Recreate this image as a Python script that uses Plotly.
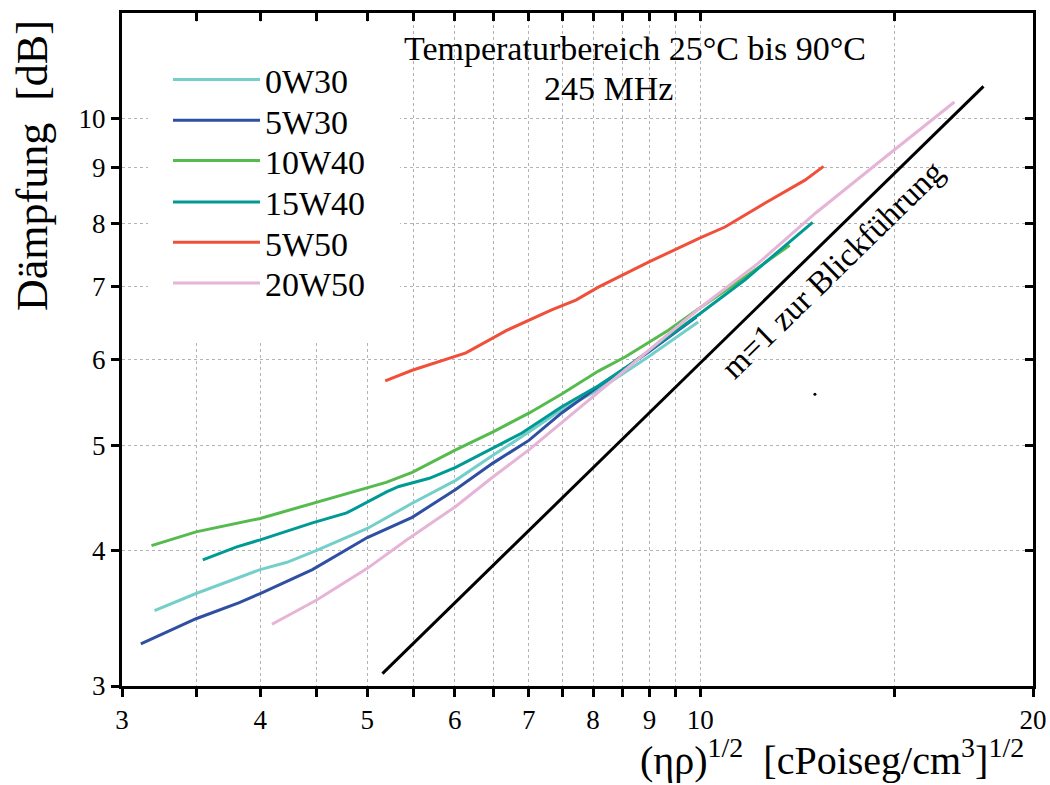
import math
import plotly.graph_objects as go

FONT = "Liberation Serif"

# ---- data ----
x_0w30 = [3.21, 3.50, 4.00, 4.23, 4.50, 5.00, 5.49, 6.01, 6.49, 7.00, 7.49, 8.09, 8.98, 9.96]
y_0w30 = [3.52, 3.65, 3.84, 3.90, 4.00, 4.19, 4.42, 4.64, 4.89, 5.14, 5.39, 5.62, 6.03, 6.49]

x_5w30 = [3.12, 3.50, 3.83, 4.00, 4.46, 4.75, 5.00, 5.49, 6.01, 6.49, 7.00, 7.49, 8.09, 8.98, 9.92]
y_5w30 = [3.28, 3.46, 3.58, 3.65, 3.84, 3.99, 4.11, 4.29, 4.55, 4.81, 5.05, 5.35, 5.66, 6.09, 6.56]

x_10w40 = [3.19, 3.50, 4.00, 4.46, 4.75, 5.20, 5.49, 6.01, 6.49, 7.00, 7.49, 8.09, 8.56, 9.36, 10.0, 10.98, 12.05]
y_10w40 = [4.04, 4.16, 4.28, 4.42, 4.50, 4.62, 4.72, 4.95, 5.14, 5.35, 5.57, 5.85, 6.03, 6.38, 6.69, 7.14, 7.64]

x_15w40 = [3.55, 3.81, 4.00, 4.46, 4.79, 5.21, 5.34, 5.69, 6.01, 6.49, 6.90, 7.49, 8.09, 8.56, 10.0, 10.98, 12.64]
y_15w40 = [3.92, 4.03, 4.09, 4.24, 4.33, 4.53, 4.58, 4.66, 4.77, 4.97, 5.13, 5.42, 5.67, 5.89, 6.61, 7.10, 8.02]

x_5w50 = [5.19, 5.49, 6.14, 6.69, 7.34, 7.72, 8.09, 8.98, 10.0, 10.53, 11.44, 12.44, 12.93]
y_5w50 = [5.73, 5.86, 6.08, 6.38, 6.66, 6.80, 6.99, 7.37, 7.76, 7.94, 8.35, 8.77, 9.03]

x_20w50 = [4.10, 4.50, 5.00, 5.43, 6.01, 6.49, 7.00, 7.49, 8.09, 10.0, 11.28, 12.72, 14.47, 16.98]
y_20w50 = [3.42, 3.60, 3.85, 4.09, 4.39, 4.67, 4.95, 5.24, 5.60, 6.69, 7.35, 8.18, 9.09, 10.35]

# guide line with slope m = 1
x_guide = [5.16, 18.04]
y_guide = [3.08, 10.70]

# stray dot in the original figure
x_dot = [12.70]
y_dot = [5.57]

names = ["0W30", "5W30", "10W40", "15W40", "5W50", "20W50"]
colors = ["#74cfcb", "#2f4fa2", "#56bb4e", "#009a94", "#f0503a", "#e6b4d6"]
xs_all = [x_0w30, x_5w30, x_10w40, x_15w40, x_5w50, x_20w50]
ys_all = [y_0w30, y_5w30, y_10w40, y_15w40, y_5w50, y_20w50]

x_major = [3, 4, 5, 6, 7, 8, 9, 10, 20]
x_minor = [3.5, 4.5, 5.5, 6.5, 7.5, 8.5, 9.5, 15]
x_top_ticks = [3.5, 4, 4.5, 5, 5.5, 6, 6.5, 7, 7.5, 8, 8.5, 9, 9.5, 10, 15]
y_tickvals = [3, 4, 5, 6, 7, 8, 9, 10]
y_right_ticks = [4, 5, 6, 7, 8, 9, 10]

x_range = [math.log10(3), math.log10(20)]
y_range = [math.log10(3), math.log10(12.5)]

# plot-area geometry in pixels (for paper-coordinate placement of labels)
L, T, W, H = 122, 13, 911, 673


def px(xp):
    return (xp - L) / W


def py(yp):
    return (T + H - yp) / H


fig = go.Figure()

fig.add_trace(go.Scatter(x=x_guide, y=y_guide, mode="lines",
                         line=dict(color="black", width=3), showlegend=False,
                         hoverinfo="skip"))

legend_ids = ["legend", "legend2", "legend3", "legend4", "legend5", "legend6"]
legend_centers = [80, 120.7, 161, 202.3, 242.7, 283.3]

for name, xs, ys, col, lid in zip(names, xs_all, ys_all, colors, legend_ids):
    fig.add_trace(go.Scatter(
        x=xs, y=ys, mode="lines", name=name, legend=lid,
        line=dict(color=col, width=3),
    ))

fig.add_trace(go.Scatter(x=x_dot, y=y_dot, mode="markers",
                         marker=dict(color="black", size=3), showlegend=False,
                         hoverinfo="skip"))

# dummy trace to activate overlay axes (inside ticks on top / right)
fig.add_trace(go.Scatter(x=[None], y=[None], xaxis="x2", yaxis="y2",
                         showlegend=False, hoverinfo="skip"))

grid_col = "#b3b3b3"
tick_font = dict(family=FONT, size=27, color="black")

legend_layout = {}
for lid, c in zip(legend_ids, legend_centers):
    legend_layout[lid] = dict(
        x=px(168), y=py(c), xanchor="left", yanchor="middle",
        bgcolor="rgba(0,0,0,0)", borderwidth=0,
        font=dict(family=FONT, size=34, color="black"),
        itemwidth=87, tracegroupgap=0,
    )

fig.update_layout(
    width=1050, height=785,
    margin=dict(l=L, r=1050 - L - W, t=T, b=785 - T - H, autoexpand=False),
    paper_bgcolor="white", plot_bgcolor="white",
    font=dict(family=FONT, size=27, color="black"),
    xaxis=dict(type="log", range=x_range, tickmode="array",
               tickvals=x_major, ticktext=[str(v) for v in x_major],
               ticks="outside", ticklen=8, tickwidth=3, tickcolor="black",
               showline=True, linewidth=3, linecolor="black", mirror=True,
               showgrid=True, gridcolor=grid_col, griddash="dot", gridwidth=1,
               minor=dict(tickmode="array", tickvals=x_minor, ticks="outside",
                          ticklen=8, tickwidth=3, tickcolor="black",
                          showgrid=True, gridcolor=grid_col, griddash="dot",
                          gridwidth=1),
               zeroline=False, automargin=False, tickfont=tick_font),
    yaxis=dict(type="log", range=y_range, tickmode="array",
               tickvals=y_tickvals, ticktext=[str(v) for v in y_tickvals],
               ticks="outside", ticklen=8, tickwidth=3, tickcolor="black",
               showline=True, linewidth=3, linecolor="black", mirror=True,
               showgrid=True, gridcolor=grid_col, griddash="dot", gridwidth=1,
               zeroline=False, automargin=False, tickfont=tick_font),
    xaxis2=dict(type="log", range=x_range, overlaying="x", side="top", anchor="y",
                tickmode="array", tickvals=x_top_ticks, ticks="inside", ticklen=8,
                tickwidth=2.5, tickcolor="black", showticklabels=False,
                showgrid=False, showline=False, zeroline=False, automargin=False),
    yaxis2=dict(type="log", range=y_range, overlaying="y", side="right", anchor="x",
                tickmode="array", tickvals=y_right_ticks, ticks="inside", ticklen=8,
                tickwidth=2.5, tickcolor="black", showticklabels=False,
                showgrid=False, showline=False, zeroline=False, automargin=False),
    showlegend=True,
    shapes=[
        dict(type="line", xref="x", yref="paper", x0=1, x1=1, y0=0, y1=1,
             line=dict(color="#333333", width=1.2)),
        dict(type="line", xref="paper", yref="y", x0=0, x1=1, y0=1, y1=1,
             line=dict(color="#333333", width=1.2)),
        # white panel behind the legend (hides grid lines there)
        dict(type="rect", xref="paper", yref="paper",
             x0=px(148), x1=px(400), y0=py(340), y1=py(25),
             fillcolor="white", line=dict(width=0), layer="above"),
    ],
    annotations=[
        dict(text="Dämpfung\u00a0\u00a0[dB]", xref="paper", yref="paper",
             x=px(33), y=py(166), textangle=-90,
             xanchor="center", yanchor="middle", showarrow=False,
             font=dict(family=FONT, size=44, color="black")),
        dict(text="(ηρ)<sup>1/2</sup>\u00a0\u00a0[cPoiseg/cm<sup>3</sup>]<sup>1/2</sup>",
             xref="paper", yref="paper", x=px(832), y=py(757),
             xanchor="center", yanchor="middle", showarrow=False,
             font=dict(family=FONT, size=40, color="black")),
        dict(text="Temperaturbereich 25°C bis 90°C",
             xref="paper", yref="paper", x=px(635), y=py(48),
             xanchor="center", yanchor="middle", showarrow=False,
             font=dict(family=FONT, size=34, color="black")),
        dict(text="245 MHz",
             xref="paper", yref="paper", x=px(608), y=py(88),
             xanchor="center", yanchor="middle", showarrow=False,
             font=dict(family=FONT, size=34, color="black")),
        dict(text="m=1 zur Blickführung", xref="paper", yref="paper",
             x=px(832), y=py(270), textangle=-44.3,
             xanchor="center", yanchor="middle", showarrow=False,
             font=dict(family=FONT, size=33, color="black")),
    ],
    **legend_layout,
)

fig.write_html("out.html")
